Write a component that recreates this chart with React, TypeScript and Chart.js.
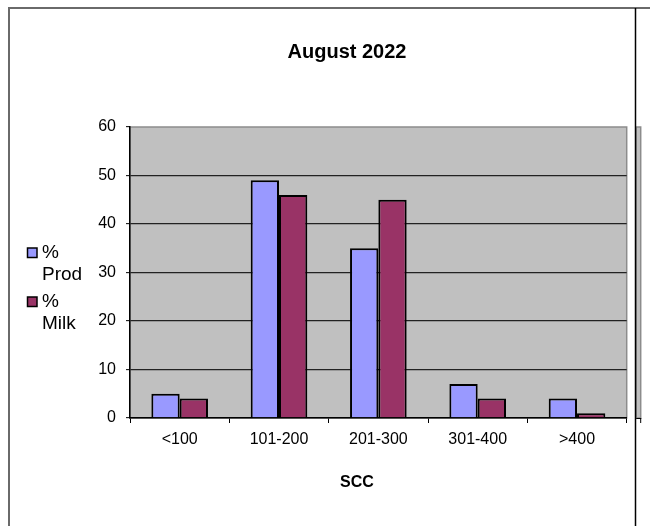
import React, { useEffect, useRef } from "react";
import { Chart, registerables } from "chart.js";

Chart.register(...registerables);

const categories = ["<100", "101-200", "201-300", "301-400", ">400"];
const prodValues = [5, 49, 35, 7, 4];
const milkValues = [4, 46, 45, 4, 1];
const seriesLabels = ["% Prod", "% Milk"];
const seriesColors = ["#9999FF", "#993366"];
const yMin = 0;
const yMax = 60;
const yStep = 10;
const titleText = "August 2022";
const xAxisTitle = "SCC";

const FONT = "'Liberation Sans', Arial, sans-serif";

const decorPlugin = {
  id: "decor",
  beforeDraw(chart: any) {
    const { ctx, chartArea: a } = chart;
    ctx.save();
    ctx.fillStyle = "#ffffff";
    ctx.fillRect(0, 0, chart.width, chart.height);
    // plot background
    ctx.fillStyle = "#C0C0C0";
    ctx.fillRect(a.left, a.top, a.right - a.left, a.bottom - a.top);
    ctx.strokeStyle = "#8c8c8c";
    ctx.lineWidth = 1.5;
    ctx.strokeRect(a.left, a.top, a.right - a.left, a.bottom - a.top);
    // small clipped strip of a neighbouring plot on the right
    const sx = a.right + 9.5;
    ctx.fillStyle = "#C0C0C0";
    ctx.fillRect(sx, a.top, 4.5, a.bottom - a.top);
    ctx.strokeRect(sx, a.top, 4.5, a.bottom - a.top);
    ctx.strokeStyle = "#000";
    ctx.lineWidth = 1;
    ctx.beginPath();
    ctx.moveTo(sx, a.bottom + 0.5);
    ctx.lineTo(sx + 5, a.bottom + 0.5);
    ctx.moveTo(sx + 4.5, a.bottom);
    ctx.lineTo(sx + 4.5, a.bottom + 5);
    ctx.stroke();
    ctx.restore();
  },
  afterDraw(chart: any) {
    const { ctx } = chart;
    ctx.save();
    // outer frame
    ctx.strokeStyle = "#6a6a6a";
    ctx.lineWidth = 2;
    ctx.beginPath();
    ctx.moveTo(9, 526);
    ctx.lineTo(9, 8);
    ctx.lineTo(650, 8);
    ctx.stroke();
    ctx.strokeStyle = "#000";
    ctx.lineWidth = 1.5;
    ctx.beginPath();
    ctx.moveTo(635.5, 8);
    ctx.lineTo(635.5, 526);
    ctx.stroke();

    // title
    ctx.fillStyle = "#000";
    ctx.textAlign = "center";
    ctx.textBaseline = "middle";
    ctx.font = `bold 20px ${FONT}`;
    ctx.fillText(titleText, 347, 52);

    // x axis title
    ctx.font = `bold 16px ${FONT}`;
    ctx.fillText(xAxisTitle, 357, 483);

    // legend
    ctx.textAlign = "left";
    ctx.font = `19px ${FONT}`;
    chart.data.datasets.forEach((ds: any, i: number) => {
      const top = 248 + i * 49;
      ctx.fillStyle = ds.backgroundColor;
      ctx.fillRect(27.5, top, 9.5, 9.5);
      ctx.strokeStyle = "#000";
      ctx.lineWidth = 1.5;
      ctx.strokeRect(27.5, top, 9.5, 9.5);
      ctx.fillStyle = "#000";
      const words = String(ds.label).split(" ");
      words.forEach((w: string, j: number) => {
        ctx.fillText(w, 42, top + 5 + j * 21.5);
      });
    });
    ctx.restore();
  },
};

export default function App() {
  const ref = useRef<HTMLCanvasElement | null>(null);
  useEffect(() => {
    if (!ref.current) return;
    const chart = new Chart(ref.current, {
      type: "bar",
      data: {
        labels: categories,
        datasets: [
          {
            label: seriesLabels[0],
            data: prodValues,
            backgroundColor: seriesColors[0],
            borderColor: "#000",
            borderWidth: 2,
          },
          {
            label: seriesLabels[1],
            data: milkValues,
            backgroundColor: seriesColors[1],
            borderColor: "#000",
            borderWidth: 2,
          },
        ],
      },
      options: {
        responsive: false,
        animation: false,
        layout: { padding: { top: 127, left: 0, right: 23.3, bottom: 0 } },
        plugins: {
          legend: { display: false },
          title: { display: false },
          tooltip: { enabled: false },
        },
        datasets: {
          bar: { categoryPercentage: 0.57, barPercentage: 1 },
        },
        scales: {
          x: {
            afterFit: (s: any) => {
              s.height = 108;
            },
            grid: {
              display: true,
              offset: true,
              drawOnChartArea: false,
              drawTicks: true,
              tickLength: 5,
              tickColor: "#000",
              tickWidth: 1,
            },
            border: { display: true, color: "#000", width: 1.5 },
            ticks: {
              color: "#000",
              font: { family: FONT, size: 16 },
              padding: 7,
              maxRotation: 0,
            },
          },
          y: {
            min: yMin,
            max: yMax,
            afterFit: (s: any) => {
              s.width = 130;
            },
            grid: {
              color: (c: any) =>
                c.tick && (c.tick.value === yMax || c.tick.value === yMin)
                  ? "rgba(0,0,0,0)"
                  : "#222",
              lineWidth: 1.3,
              drawTicks: true,
              tickLength: 4,
              tickColor: "#000",
              tickWidth: 1,
            },
            border: { display: true, color: "#000", width: 1.5 },
            ticks: {
              stepSize: yStep,
              color: "#000",
              font: { family: FONT, size: 16 },
              padding: 10,
            },
          },
        },
      },
      plugins: [decorPlugin],
    });
    return () => chart.destroy();
  }, []);
  return (
    <canvas
      ref={ref}
      width={650}
      height={526}
      style={{ position: "fixed", left: 0, top: 0, width: 650, height: 526 }}
    />
  );
}
